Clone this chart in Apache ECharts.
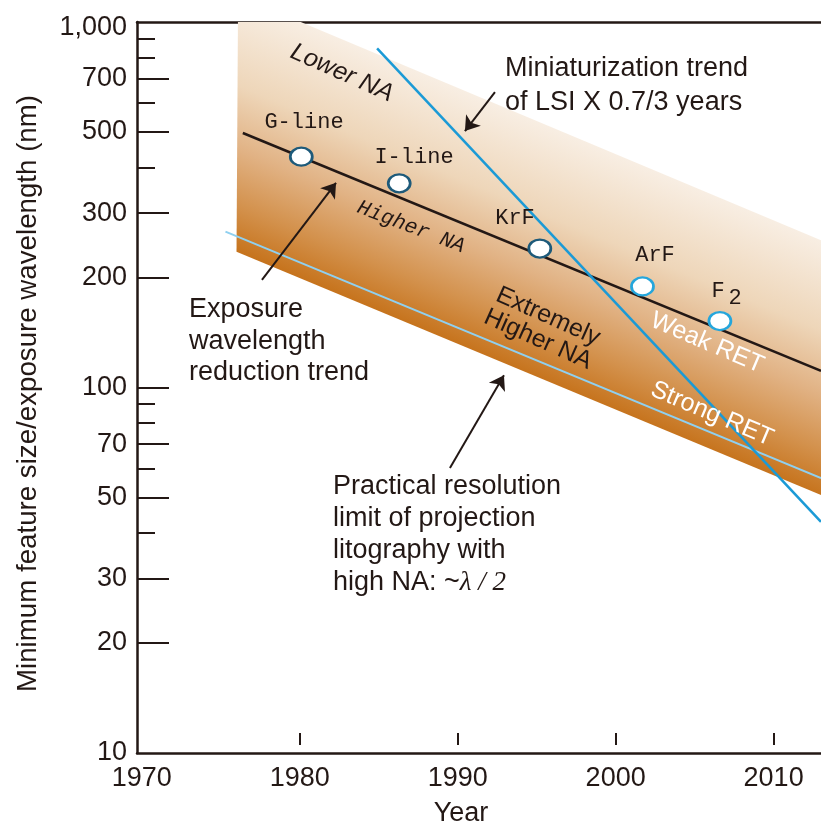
<!DOCTYPE html>
<html><head><meta charset="utf-8">
<script src="https://cdn.jsdelivr.net/npm/echarts@6/dist/echarts.min.js"></script>
<style>html,body{margin:0;padding:0;background:#fff}#c{width:821px;height:823px}</style>
</head><body><div id="c"></div>
<script>
// ---- axis ticks / labels ----
const xLabelYears = [1970, 1980, 1990, 2000, 2010];
const xTickYears = [1980, 1990, 2000, 2010];
const yLabelValues = [10, 20, 30, 50, 70, 100, 200, 300, 500, 700, 1000];
const yMajorTickValues = [20, 30, 50, 70, 100, 200, 300, 500, 700];
const yMinorTickValues = [40, 60, 80, 90, 400, 600, 800, 900];

// ---- exposure wavelength points ----
const pointNames = ['G-line', 'I-line', 'KrF', 'ArF', 'F2'];
const pointYears = [1980.1, 1986.3, 1995.2, 2001.7, 2006.6];
const pointValues = [428, 362, 240, 189, 152];

// ---- trend lines [year, nm] ----
const wavelengthTrend = [[1976.4, 497], [2013.0, 111]];
const miniaturizationTrend = [[1984.9, 847], [2013.0, 42.9]];
const strongRetLimit = [[1975.3, 267], [2013.0, 56.5]];

// ---- NA band edges [year, nm] ----
const bandUpper = [[1976.1, 1180], [2013.0, 253]];
const bandLower = [[1976.0, 235], [2013.0, 50.8]];

// ---- annotation arrows [from, to] ----
const arrowMiniaturization = [[1992.36, 643], [1990.46, 503]];
const arrowExposure = [[1977.61, 197], [1982.3, 363]];
const arrowPractical = [[1989.51, 60.2], [1992.93, 108]];

const TEXT = '#231815';
const SANS = '"Liberation Sans", Arial, sans-serif';
const MONO = '"Liberation Mono", "DejaVu Sans Mono", monospace';
const DEG = Math.PI / 180;

const chart = echarts.init(document.getElementById('c'), null, {renderer: 'canvas'});

const pointBorder = ['#1d5a7a', '#1d5a7a', '#1d5a7a', '#25a6dc', '#25a6dc'];

function arrowLine(a) { return [{coord: a[0]}, {coord: a[1]}]; }

const option = {
  animation: false,
  backgroundColor: '#fff',
  grid: {left: 137, right: 0, top: 22, bottom: 70, containLabel: false, outerBoundsMode: 'none'},
  xAxis: [
    {
      type: 'value', min: 1969.7, max: 2013.0, position: 'bottom',
      name: 'Year', nameLocation: 'middle', nameGap: 47,
      nameTextStyle: {fontFamily: SANS, fontSize: 27, color: TEXT, padding: [0, 36, 0, 0]},
      axisLine: {show: true, lineStyle: {color: TEXT, width: 2.5}},
      axisTick: {show: false},
      axisLabel: {customValues: xLabelYears, fontFamily: SANS, fontSize: 27, color: TEXT, margin: 12,
        formatter: v => String(v)},
      splitLine: {show: false}
    },
    {
      type: 'value', min: 1969.7, max: 2013.0, position: 'top',
      axisLine: {show: true, lineStyle: {color: TEXT, width: 2.5}},
      axisTick: {show: false}, axisLabel: {show: false}, splitLine: {show: false}
    },
    {
      type: 'value', min: 1969.7, max: 2013.0, position: 'bottom', offset: -8,
      axisLine: {show: false},
      axisTick: {show: true, inside: true, length: 12, customValues: xTickYears, lineStyle: {color: TEXT, width: 2}},
      axisLabel: {show: false}, splitLine: {show: false}
    }
  ],
  yAxis: [
    {
      type: 'log', logBase: 10, min: 10, max: 1000, position: 'left',
      name: 'Minimum feature size/exposure wavelength (nm)', nameLocation: 'middle', nameGap: 95, nameRotate: 90,
      nameTextStyle: {fontFamily: SANS, fontSize: 27.7, color: TEXT, padding: [0, 12, 0, 0]},
      axisLine: {show: true, lineStyle: {color: TEXT, width: 2.5}},
      axisTick: {show: true, inside: true, length: 32, customValues: yMajorTickValues, lineStyle: {color: TEXT, width: 2}},
      axisLabel: {customValues: yLabelValues, fontFamily: SANS, fontSize: 27, color: TEXT, margin: 10,
        formatter: v => v >= 1000 ? '{t|' + Math.round(v).toLocaleString('en-US') + '}' : String(Math.round(v)),
        rich: {t: {fontFamily: SANS, fontSize: 27, color: TEXT, padding: [12, 0, 0, 0]}}},
      splitLine: {show: false}
    },
    {
      type: 'log', logBase: 10, min: 10, max: 1000, position: 'left',
      axisLine: {show: false},
      axisTick: {show: true, inside: true, length: 18, customValues: yMinorTickValues, lineStyle: {color: TEXT, width: 2}},
      axisLabel: {show: false}, splitLine: {show: false}
    }
  ],
  series: [
    {
      type: 'custom', clip: true, silent: true, z: 1,
      data: [[1990, 100]],
      renderItem: function (params, api) {
        const p1 = api.coord(bandUpper[0]), p2 = api.coord(bandUpper[1]);
        const p3 = api.coord(bandLower[1]), p4 = api.coord(bandLower[0]);
        const dx = p2[0] - p1[0], dy = p2[1] - p1[1];
        const len = Math.hypot(dx, dy);
        const nx = -dy / len, ny = dx / len;
        const mx = (p1[0] + p2[0]) / 2, my = (p1[1] + p2[1]) / 2;
        const d = (p4[0] - mx) * nx + (p4[1] - my) * ny;
        const grad = new echarts.graphic.LinearGradient(mx, my, mx + nx * d, my + ny * d, [
          {offset: 0, color: '#f8eee3'},
          {offset: 0.35, color: '#eed6b9'},
          {offset: 0.6, color: '#e1b284'},
          {offset: 0.82, color: '#d3914c'},
          {offset: 1, color: '#c6731c'}
        ], true);
        return {type: 'polygon', shape: {points: [p1, p2, p3, p4]}, style: {fill: grad}};
      }
    },
    {
      type: 'line', data: strongRetLimit, symbol: 'none', silent: true, z: 2,
      lineStyle: {color: '#8fd0f0', width: 2}
    },
    {
      type: 'line', data: wavelengthTrend, symbol: 'none', silent: true, z: 3,
      lineStyle: {color: TEXT, width: 2.5},
      markLine: {
        silent: true, symbol: ['none', 'arrow'], symbolSize: 14, symbolOffset: 0,
        label: {show: false}, emphasis: {disabled: true},
        lineStyle: {color: TEXT, width: 2, type: 'solid', opacity: 1},
        itemStyle: {color: TEXT},
        data: [arrowLine(arrowMiniaturization), arrowLine(arrowExposure), arrowLine(arrowPractical)]
      }
    },
    {
      type: 'line', data: miniaturizationTrend, symbol: 'none', silent: true, z: 4,
      lineStyle: {color: '#1b9ad6', width: 2.5}
    },
    {
      type: 'scatter', silent: true, z: 5,
      symbol: 'circle', symbolSize: [22, 18],
      data: pointYears.map((yr, i) => ({name: pointNames[i], value: [yr, pointValues[i]],
        itemStyle: {borderColor: pointBorder[i]}})),
      itemStyle: {color: '#ffffff', borderWidth: 2.5, opacity: 1}
    }
  ],
  graphic: [
    {type: 'text', x: 342, y: 73, rotation: -24 * DEG, z: 20,
      style: {text: 'Lower NA', fontFamily: SANS, fontSize: 25, fontStyle: 'italic', fill: TEXT, align: 'center', verticalAlign: 'middle'}},
    {type: 'text', x: 304, y: 122, z: 20,
      style: {text: 'G-line', fontFamily: MONO, fontSize: 22, fill: TEXT, align: 'center', verticalAlign: 'middle'}},
    {type: 'text', x: 414, y: 157, z: 20,
      style: {text: 'I-line', fontFamily: MONO, fontSize: 22, fill: TEXT, align: 'center', verticalAlign: 'middle'}},
    {type: 'text', x: 515, y: 218, z: 20,
      style: {text: 'KrF', fontFamily: MONO, fontSize: 22, fill: TEXT, align: 'center', verticalAlign: 'middle'}},
    {type: 'text', x: 655, y: 255, z: 20,
      style: {text: 'ArF', fontFamily: MONO, fontSize: 22, fill: TEXT, align: 'center', verticalAlign: 'middle'}},
    {type: 'text', x: 718, y: 291, z: 20,
      style: {text: 'F', fontFamily: MONO, fontSize: 22, fill: TEXT, align: 'center', verticalAlign: 'middle'}},
    {type: 'text', x: 735, y: 298, z: 20,
      style: {text: '2', fontFamily: MONO, fontSize: 22, fill: TEXT, align: 'center', verticalAlign: 'middle'}},
    {type: 'text', x: 411, y: 227, rotation: -21 * DEG, z: 20,
      style: {text: 'Higher NA', fontFamily: MONO, fontSize: 21, fontStyle: 'italic', fill: TEXT, align: 'center', verticalAlign: 'middle'}},
    {type: 'text', x: 543, y: 328, rotation: -24 * DEG, z: 20,
      style: {text: 'Extremely\nHigher NA', fontFamily: SANS, fontSize: 25, lineHeight: 25, fill: TEXT, align: 'center', verticalAlign: 'middle'}},
    {type: 'text', x: 707, y: 343, rotation: -23 * DEG, z: 20,
      style: {text: 'Weak RET', fontFamily: SANS, fontSize: 25, fill: '#ffffff', align: 'center', verticalAlign: 'middle'}},
    {type: 'text', x: 712, y: 414, rotation: -23 * DEG, z: 20,
      style: {text: 'Strong RET', fontFamily: SANS, fontSize: 25, fill: '#ffffff', align: 'center', verticalAlign: 'middle'}},
    {type: 'text', x: 505, y: 52, z: 20,
      style: {text: 'Miniaturization trend\nof LSI X 0.7/3 years', fontFamily: SANS, fontSize: 27, lineHeight: 34, fill: TEXT, align: 'left', verticalAlign: 'top'}},
    {type: 'text', x: 189, y: 294, z: 20,
      style: {text: 'Exposure\nwavelength\nreduction trend', fontFamily: SANS, fontSize: 27, lineHeight: 31.5, fill: TEXT, align: 'left', verticalAlign: 'top'}},
    {type: 'text', x: 333, y: 471, z: 20,
      style: {text: 'Practical resolution\nlimit of projection\nlitography with\nhigh NA: ~{l|λ / 2}', fontFamily: SANS, fontSize: 27, lineHeight: 32, fill: TEXT, align: 'left', verticalAlign: 'top',
        rich: {l: {fontFamily: '"Liberation Serif", "DejaVu Serif", serif', fontStyle: 'italic', fontSize: 27, lineHeight: 32, fill: TEXT}}}}
  ]
};
chart.setOption(option);
</script>
</body></html>
